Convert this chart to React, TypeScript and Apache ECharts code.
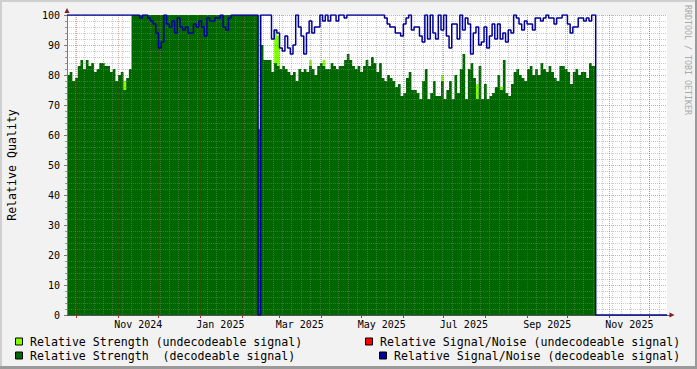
import React, { useEffect, useRef } from 'react';
import * as echarts from 'echarts';

// ---------- time frame ----------
const DAY = 86400000;
const SERIES_START = Date.UTC(2024, 8, 24); // first sample
const STEP_DAYS = 2; // one sample every 2 days
const DATA_END = Date.UTC(2025, 9, 22); // recording stops here
const AXIS_MIN = Date.UTC(2024, 8, 24);
const AXIS_MAX = AXIS_MIN + 446 * DAY;

// ---------- series values (one per 2-day sample) ----------
const strengthDecodeable = [
  80, 81, 78, 79, 83, 85, 82, 85, 83, 84,
  81, 82, 84, 84, 83, 83, 81, 82, 78, 80,
  81, 75, 79, 82, 100, 100, 100, 100, 100, 100,
  100, 100, 100, 100, 100, 100, 100, 100, 100, 100,
  100, 100, 100, 100, 100, 100, 100, 100, 100, 100,
  100, 100, 100, 100, 100, 100, 100, 100, 100, 100,
  100, 100, 100, 100, 100, 100, 100, 100, 100, 100,
  100, 62, 90, 85, 85, 85, 81, 84, 83, 82,
  83, 82, 81, 80, 81, 78, 82, 81, 82, 81,
  83, 82, 80, 83, 84, 83, 82, 82, 84, 83,
  82, 83, 83, 85, 87, 85, 83, 82, 83, 81,
  83, 85, 83, 86, 84, 81, 84, 79, 78, 80,
  79, 78, 76, 77, 73, 74, 79, 81, 75, 75,
  74, 72, 78, 82, 72, 74, 78, 73, 73, 78,
  72, 75, 78, 72, 80, 74, 82, 87, 72, 82,
  84, 79, 72, 83, 72, 77, 72, 73, 74, 76,
  80, 75, 85, 74, 73, 77, 81, 82, 80, 79,
  78, 82, 83, 80, 82, 80, 84, 82, 81, 83,
  81, 79, 78, 83, 83, 82, 81, 77, 81, 82,
  80, 81, 81, 79, 84, 83, 83,
];

const snrDecodeable = [
  100, 100, 100, 100, 100, 100, 100, 100, 100, 100,
  100, 100, 100, 100, 100, 100, 100, 100, 100, 100,
  100, 100, 100, 100, 100, 100, 100, 99, 100, 100,
  99, 98, 97, 94, 89, 91, 100, 97, 96, 98,
  94, 99, 96, 95, 96, 94, 94, 97, 96, 98,
  96, 93, 99, 98, 98, 99, 99, 100, 96, 95,
  99, 100, 100, 100, 100, 100, 100, 100, 100, 100,
  100, 0, 100, 100, 100, 100, 92, 95, 94, 89,
  88, 93, 89, 87, 90, 100, 96, 93, 87, 94,
  98, 94, 96, 96, 100, 98, 100, 98, 100, 100,
  98, 100, 100, 99, 100, 100, 100, 100, 100, 100,
  100, 100, 100, 100, 100, 100, 100, 100, 99, 97,
  96, 96, 94, 94, 93, 97, 99, 100, 95, 96,
  96, 93, 91, 100, 92, 100, 94, 92, 100, 95,
  100, 93, 89, 97, 97, 92, 100, 95, 99, 97,
  87, 94, 96, 90, 91, 96, 89, 93, 97, 92,
  97, 92, 94, 91, 95, 94, 100, 99, 97, 95,
  98, 97, 97, 95, 99, 99, 98, 99, 100, 99,
  99, 97, 99, 99, 100, 100, 97, 94, 96, 96,
  99, 99, 98, 99, 98, 100, 100,
];

// undecodeable strength: only a few samples carry a value
const undecodeableSample = [21, 71, 77, 78, 90, 95, 139, 152, 161];
const strengthUndecodeable = [78, 100, 95, 93, 85, 85, 80, 77, 76];

// undecodeable signal/noise: no visible values
const snrUndecodeable: number[] = [];

// ---------- axis labels ----------
const xLabelDates = [
  Date.UTC(2024, 10, 16), Date.UTC(2025, 0, 16), Date.UTC(2025, 2, 16),
  Date.UTC(2025, 4, 16), Date.UTC(2025, 6, 16), Date.UTC(2025, 8, 16), Date.UTC(2025, 10, 16),
];
const xLabelTexts = ['Nov 2024', 'Jan 2025', 'Mar 2025', 'May 2025', 'Jul 2025', 'Sep 2025', 'Nov 2025'];
const yTitle = 'Relative Quality';

const legendNames = [
  'Relative Strength (undecodeable signal)',
  'Relative Strength  (decodeable signal)',
  'Relative Signal/Noise (undecodeable signal)',
  'Relative Signal/Noise (decodeable signal)',
];
const legendColors = ['#80ff00', '#006600', '#ff0000', '#000099'];

const MONO = '"DejaVu Sans Mono", monospace';
const MINOR = 'rgba(140,140,140,0.45)';
const MAJOR = 'rgba(140,30,30,0.38)';

function monthStarts(): number[] {
  const out: number[] = [];
  for (let y = 2024; y <= 2025; y++) {
    for (let m = 0; m < 12; m++) {
      const t = Date.UTC(y, m, 1);
      if (t >= AXIS_MIN && t <= AXIS_MAX) out.push(t);
    }
  }
  return out;
}
function weekStarts(): number[] {
  const out: number[] = [];
  for (let t = Date.UTC(2024, 8, 30); t <= AXIS_MAX; t += 7 * DAY) out.push(t);
  return out;
}

export default function App() {
  const ref = useRef<HTMLDivElement>(null);
  useEffect(() => {
    document.body.style.margin = '0';
    const chart = echarts.init(ref.current!, null, { renderer: 'svg' });
    const t = (i: number) => SERIES_START + i * STEP_DAYS * DAY;

    const greenData: any[] = strengthDecodeable.map((v, i) => [t(i), v]);
    greenData.push([DATA_END, 0]);
    const blueData: any[] = snrDecodeable.map((v, i) => [t(i), v]);
    blueData.push([DATA_END, 0]);
    blueData.push([AXIS_MAX, 0]);
    // each undecodeable sample covers its own 2-day interval; null breaks the area between samples
    const lightData: any[] = [];
    undecodeableSample.forEach((s, k) => {
      lightData.push([t(s), strengthUndecodeable[k]]);
      lightData.push([t(s + 1), strengthUndecodeable[k]]);
      lightData.push([t(s + 1) + 1, null]);
    });
    const redData = snrUndecodeable.map((v, i) => [t(i), v]);

    const legendPos = [
      { sx: 15, tx: 30, y: 341.5 },
      { sx: 15, tx: 30, y: 355.5 },
      { sx: 365, tx: 380, y: 341.5 },
      { sx: 379, tx: 394, y: 355.5 },
    ];
    const legendGraphics: any[] = [];
    legendNames.forEach((name, k) => {
      const p = legendPos[k];
      legendGraphics.push({
        type: 'rect',
        shape: { x: p.sx + 0.5, y: p.y - 3.5, width: 7, height: 7 },
        style: { fill: legendColors[k], stroke: '#000', lineWidth: 1 },
        silent: true,
      });
      legendGraphics.push({
        type: 'text',
        x: p.tx,
        y: p.y,
        style: { text: name, fontFamily: MONO, fontSize: 11.6, fill: '#000', align: 'left', verticalAlign: 'middle' },
        silent: true,
      });
    });

    const option: any = {
      animation: false,
      backgroundColor: '#f2f2f2',
      grid: {
        left: 67, right: 30, top: 15, bottom: 54, show: true, backgroundColor: '#ffffff', borderWidth: 0,
        containLabel: false, outerBoundsMode: 'none',
      },
      xAxis: [
        {
          type: 'value', position: 'top', min: AXIS_MIN, max: AXIS_MAX, z: 3,
          axisLine: { show: false }, axisTick: { show: false, customValues: weekStarts() },
          axisLabel: { show: false },
          splitLine: { show: true, lineStyle: { color: MINOR, width: 1, type: [1, 1] } },
        },
        {
          type: 'value', position: 'bottom', min: AXIS_MIN, max: AXIS_MAX, z: 3,
          axisLine: { show: true, onZero: false, lineStyle: { color: '#555', width: 1 } },
          axisTick: { show: true, customValues: monthStarts(), length: 3, lineStyle: { color: '#b03030' } },
          axisLabel: {
            show: true, customValues: xLabelDates, margin: 4, fontFamily: MONO, fontSize: 10, color: '#000',
            formatter: (v: number) => { const k = xLabelDates.indexOf(v); return k >= 0 ? xLabelTexts[k] : ''; },
          },
          splitLine: { show: true, lineStyle: { color: MAJOR, width: 1, type: [1, 1] } },
        },
      ],
      yAxis: {
        type: 'value', min: 0, max: 100, interval: 10, z: 3,
        axisLine: { show: true, onZero: false, lineStyle: { color: '#777', width: 1 } },
        axisTick: { show: true, length: 3, lineStyle: { color: '#777' } },
        minorTick: { show: true, splitNumber: 5, length: 2, lineStyle: { color: '#999' } },
        axisLabel: { margin: 7, fontFamily: MONO, fontSize: 10, color: '#000' },
        splitLine: { show: true, lineStyle: { color: MAJOR, width: 1, type: [1, 1] } },
        minorSplitLine: { show: true, lineStyle: { color: MINOR, width: 1, type: [1, 1] } },
      },
      series: [
        {
          name: legendNames[0], type: 'line', xAxisIndex: 1, data: lightData, step: 'end', symbol: 'none',
          connectNulls: false,
          lineStyle: { width: 0, color: legendColors[0] }, areaStyle: { color: legendColors[0], opacity: 1 }, z: 1, silent: true,
        },
        {
          name: legendNames[1], type: 'line', xAxisIndex: 1, data: greenData, step: 'end', symbol: 'none',
          lineStyle: { width: 0, color: legendColors[1] }, areaStyle: { color: legendColors[1], opacity: 1 }, z: 2, silent: true,
        },
        {
          name: legendNames[2], type: 'line', xAxisIndex: 1, data: redData, step: 'end', symbol: 'none',
          lineStyle: { width: 1.5, color: legendColors[2] }, z: 4, silent: true,
        },
        {
          name: legendNames[3], type: 'line', xAxisIndex: 1, data: blueData, step: 'end', symbol: 'none',
          lineStyle: { width: 1.5, color: legendColors[3] }, z: 4, silent: true,
        },
      ],
      graphic: [
        { type: 'rect', shape: { x: 0, y: 0, width: 697, height: 2 }, style: { fill: '#cfcfcf' }, silent: true },
        { type: 'rect', shape: { x: 0, y: 0, width: 2, height: 369 }, style: { fill: '#cfcfcf' }, silent: true },
        { type: 'rect', shape: { x: 0, y: 366, width: 697, height: 3 }, style: { fill: '#9a9a9a' }, silent: true },
        { type: 'rect', shape: { x: 695, y: 0, width: 2, height: 369 }, style: { fill: '#9a9a9a' }, silent: true },
        { type: 'line', shape: { x1: 667, y1: 315.5, x2: 670, y2: 315.5 }, style: { stroke: '#555', lineWidth: 1 }, silent: true },
        { type: 'polygon', shape: { points: [[64.5, 13], [69.5, 13], [67, 8]] }, style: { fill: '#7f1f1f' }, silent: true },
        { type: 'polygon', shape: { points: [[669.5, 312.5], [669.5, 317.5], [674.5, 315]] }, style: { fill: '#7f1f1f' }, silent: true },
        {
          type: 'text', x: 11.5, y: 165, rotation: Math.PI / 2,
          style: { text: yTitle, fontFamily: MONO, fontSize: 11.6, fill: '#000', align: 'center', verticalAlign: 'middle' },
          silent: true,
        },
        {
          type: 'text', x: 688, y: 5, rotation: -Math.PI / 2,
          style: { text: 'RRDTOOL / TOBI OETIKER', fontFamily: MONO, fontSize: 8.3, fill: '#aaaaaa', align: 'left', verticalAlign: 'middle' },
          silent: true,
        },
        ...legendGraphics,
      ],
    };
    chart.setOption(option);
    return () => chart.dispose();
  }, []);
  return <div ref={ref} style={{ width: 697, height: 369 }} />;
}
